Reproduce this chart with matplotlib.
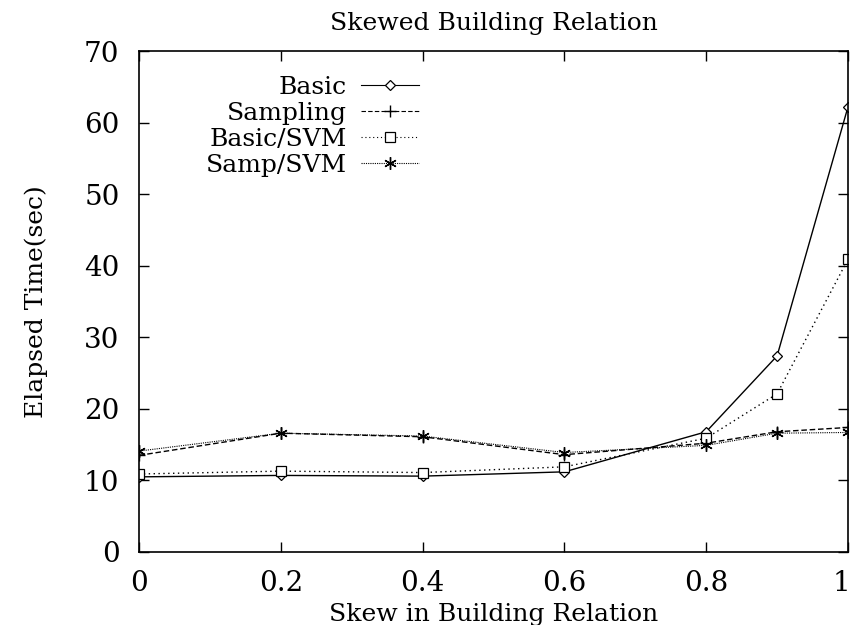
import matplotlib
matplotlib.use("Agg")
import matplotlib.pyplot as plt
import matplotlib.transforms as mtransforms

# skew values and elapsed times (sec)
skew = [0, 0.2, 0.4, 0.6, 0.8, 0.9, 1.0]
basic = [10.5, 10.7, 10.6, 11.2, 16.8, 27.4, 62.2]
sampling = [13.5, 16.6, 16.1, 13.6, 15.2, 16.8, 17.4]
basic_svm = [10.9, 11.3, 11.1, 11.9, 15.9, 22.1, 40.9]
samp_svm = [14.1, 16.6, 16.2, 13.9, 14.9, 16.6, 16.7]

xticks = [0, 0.2, 0.4, 0.6, 0.8, 1]
xtick_labels = ["0", "0.2", "0.4", "0.6", "0.8", "1"]
yticks = [0, 10, 20, 30, 40, 50, 60, 70]

plt.rcParams["font.family"] = ["DejaVu Serif"]

fig = plt.figure(figsize=(8.55, 6.25), dpi=100)
ax = fig.add_axes([139 / 855, 73 / 625, 709 / 855, 501 / 625])

ax.plot(skew, basic, color="black", lw=1.0, ls="-", marker="D", ms=5,
        mfc="white", mec="black", mew=0.9, label="Basic")
ax.plot(skew, sampling, color="black", lw=1.0, ls=(0, (4, 2)), marker="+", ms=8,
        mew=1.0, label="Sampling")
ax.plot(skew, basic_svm, color="black", lw=1.0, ls=(0, (1, 2.5)), marker="s", ms=7,
        mfc="white", mec="black", mew=0.9, label="Basic/SVM")
ax.plot(skew, samp_svm, color="black", lw=0.8, ls=(0, (1, 1)), marker=(6, 2, 0), ms=9,
        mew=1.0, label="Samp/SVM")

ax.set_xlim(0, 1)
ax.set_ylim(0, 70)
ax.set_xticks(xticks)
ax.set_xticklabels(xtick_labels)
ax.set_yticks(yticks)
ax.tick_params(direction="in", length=7, width=1, labelsize=20, top=True, right=True)
ax.tick_params(axis="x", pad=13)
ax.tick_params(axis="y", pad=14)
for s in ax.spines.values():
    s.set_linewidth(1.2)

# last x label sits right at the figure edge, nudge it in a bit
last = ax.get_xticklabels()[-1]
last.set_transform(last.get_transform() +
                   mtransforms.ScaledTranslation(-5 / 72, 0, fig.dpi_scale_trans))

ax.set_title("Skewed Building Relation", fontsize=18, pad=15)
ax.set_xlabel("Skew in Building Relation", fontsize=18, labelpad=4)
ax.set_ylabel("Elapsed Time(sec)", fontsize=18, labelpad=26)

leg = ax.legend(loc="upper right", bbox_to_anchor=(0.42, 0.986), frameon=False,
                markerfirst=False, numpoints=1, handlelength=2.35, fontsize=18,
                labelspacing=0.12, handletextpad=0.55, borderpad=0.2)
for h in leg.legend_handles:
    h.set_linewidth(0.8)

fig.savefig("out.png", dpi=100)
